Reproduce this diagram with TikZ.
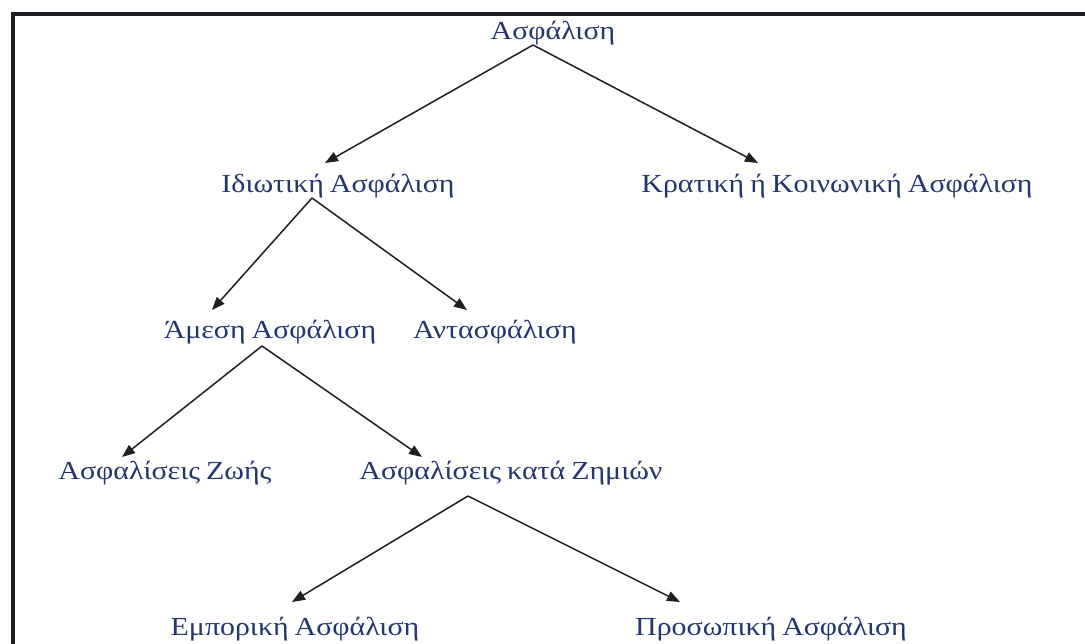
\documentclass[tikz,border=0pt]{standalone}
\usepackage{fontspec}
\setmainfont[FakeStretch=1.15,WordSpace=0.8]{Liberation Serif}
\usetikzlibrary{arrows.meta,calc}
\definecolor{txtblue}{HTML}{24366E}
\definecolor{linegray}{HTML}{1E1E24}
\tikzset{
  lbl/.style={inner sep=0pt, text=txtblue, font=\fontsize{26}{28}\selectfont},
  arr/.style={draw=linegray, line width=1.5pt, -{Triangle[length=13pt,width=10pt]}},
  frame/.style={draw=linegray, line width=3.2pt}
}
\begin{document}
\begin{tikzpicture}[x=1pt,y=1pt]
\useasboundingbox (0,0) rectangle (1085,643);
\fill[white] (0,0) rectangle (1085,643);
\draw[frame] (13,-2) -- (13,629) -- (1087,629);
\node[lbl] (root)   at (553,610) {Ασφάλιση};
\node[lbl] (priv)   at (338,457) {Ιδιωτική Ασφάλιση};
\node[lbl] (state)  at (837,457) {Κρατική ή Κοινωνική Ασφάλιση};
\node[lbl] (direct) at (270,311) {Άμεση Ασφάλιση};
\node[lbl] (re)     at (495,311) {Αντασφάλιση};
\node[lbl] (life)   at (165,170) {Ασφαλίσεις Ζωής};
\node[lbl] (dmg)    at (511,170) {Ασφαλίσεις κατά Ζημιών};
\node[lbl] (comm)   at (295,14)  {Εμπορική Ασφάλιση};
\node[lbl] (pers)   at (771,14)  {Προσωπική Ασφάλιση};
\draw[arr] ($(root)+(-20,-12)$) -- ($(priv)+(-13,23)$);
\draw[arr] ($(root)+(-20,-12)$) -- ($(state)+(-79,23)$);
\draw[arr] ($(priv)+(-26,-12)$) -- ($(direct)+(-58,22)$);
\draw[arr] ($(priv)+(-26,-12)$) -- ($(re)+(-28,22)$);
\draw[arr] ($(direct)+(-8,-14)$) -- ($(life)+(-43,16)$);
\draw[arr] ($(direct)+(-8,-14)$) -- ($(dmg)+(-89,16)$);
\draw[arr] ($(dmg)+(-43,-23)$) -- ($(comm)+(-3,27)$);
\draw[arr] ($(dmg)+(-43,-23)$) -- ($(pers)+(-91,27)$);
\end{tikzpicture}
\end{document}
